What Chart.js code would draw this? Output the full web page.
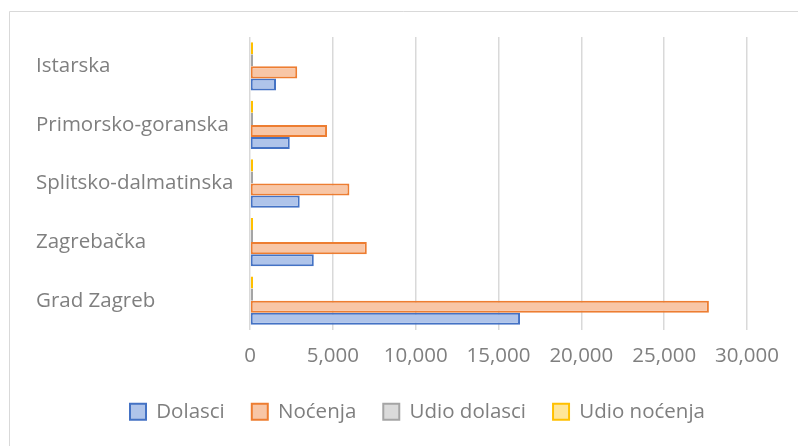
<!DOCTYPE html>
<html>
<head>
<meta charset="utf-8">
<script src="https://cdn.jsdelivr.net/npm/chart.js@4/dist/chart.umd.min.js"></script>
<style>
  html, body { margin: 0; padding: 0; background: #ffffff; }
  #wrap { position: relative; width: 798px; height: 446px; }
</style>
</head>
<body>
<div id="wrap"><canvas id="c" width="798" height="446"></canvas></div>
<script>
// ---- data ----
const categories = ['Istarska', 'Primorsko-goranska', 'Splitsko-dalmatinska', 'Zagrebačka', 'Grad Zagreb'];
const dolasci = [1570, 2400, 3000, 3850, 16300];
const nocenja = [2850, 4650, 6000, 7050, 27700];
const udioDolasci = [0.06, 0.09, 0.11, 0.14, 0.60];
const udioNocenja = [0.06, 0.10, 0.12, 0.15, 0.57];
const xTicks = [0, 5000, 10000, 15000, 20000, 25000, 30000];

const seriesNames = ['Dolasci', 'Noćenja', 'Udio dolasci', 'Udio noćenja'];

const FONT = "'Open Sans', 'Liberation Sans', sans-serif";
const TXT = '#7f7f7f';

const frame = {
  id: 'frame',
  beforeDraw(chart) {
    const ctx = chart.ctx;
    ctx.save();
    ctx.strokeStyle = '#d9d9d9';
    ctx.lineWidth = 1;
    ctx.beginPath();
    ctx.moveTo(798, 11.5);
    ctx.lineTo(9.5, 11.5);
    ctx.lineTo(9.5, 446);
    ctx.stroke();
    ctx.restore();
  }
};
const legendShift = {
  id: 'legendShift',
  afterLayout(chart) {
    if (chart.legend) { chart.legend.left = 103; }
  }
};

new Chart(document.getElementById('c'), {
  type: 'bar',
  data: {
    labels: categories,
    datasets: [
      { label: seriesNames[3], data: udioNocenja, backgroundColor: '#FFE699', borderColor: '#FFC000', borderWidth: 2, minBarLength: 3 },
      { label: seriesNames[2], data: udioDolasci, backgroundColor: '#DBDBDB', borderColor: '#A5A5A5', borderWidth: 2, minBarLength: 3 },
      { label: seriesNames[1], data: nocenja, backgroundColor: '#F8C6A6', borderColor: '#ED7D31', borderWidth: 2 },
      { label: seriesNames[0], data: dolasci, backgroundColor: '#AFC4EA', borderColor: '#4472C4', borderWidth: 2 }
    ]
  },
  options: {
    indexAxis: 'y',
    responsive: false,
    animation: false,
    devicePixelRatio: 1,
    layout: { padding: { left: 36, right: 51, top: 37, bottom: 14 } },
    datasets: { bar: { categoryPercentage: 0.825, barPercentage: 1.0, borderSkipped: false } },
    scales: {
      x: {
        min: 0, max: 30000,
        afterBuildTicks(scale) { scale.ticks = xTicks.map(v => ({ value: v })); },
        afterFit(scale) { scale.height = 44.5; },
        grid: { color: '#d9d9d9', lineWidth: 1.5, drawTicks: false },
        border: { display: false },
        ticks: {
          color: TXT, padding: 14,
          font: { family: FONT, size: 20.5 },
          callback: v => Number(v).toLocaleString('en-US')
        }
      },
      y: {
        afterFit(scale) { scale.width = 214; },
        grid: { display: false },
        border: { display: false },
        ticks: {
          color: TXT, crossAlign: 'far', padding: 10,
          font: { family: FONT, size: 20.5 }
        }
      }
    },
    plugins: {
      legend: {
        position: 'bottom',
        align: 'start',
        reverse: true,
        labels: {
          color: TXT, boxWidth: 16, boxHeight: 16, padding: 27,
          font: { family: FONT, size: 20.5 }
        }
      },
      tooltip: { enabled: false }
    }
  },
  plugins: [frame, legendShift]
});
</script>
</body>
</html>
